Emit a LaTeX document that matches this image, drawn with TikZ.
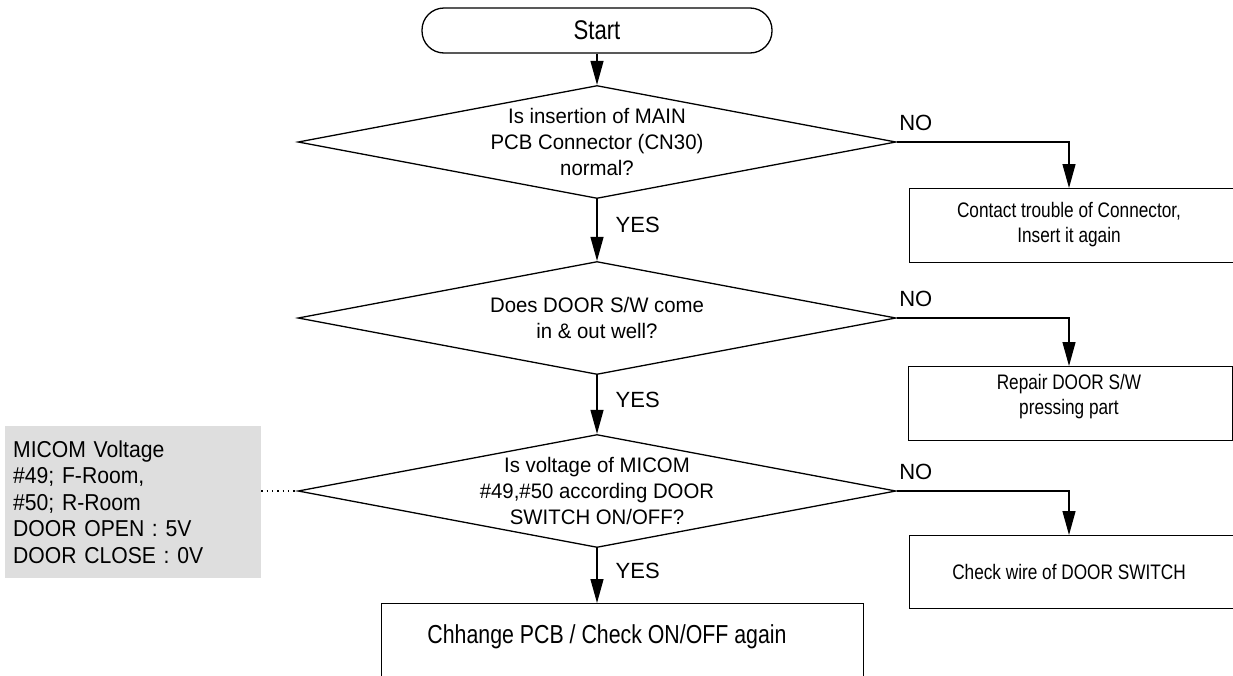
\documentclass[tikz,border=0pt]{standalone}
\usepackage{fontspec}
\setmainfont{Liberation Sans}
\newfontfamily\condfont{Liberation Sans}[FakeStretch=0.82]
\newfontfamily\semicondfont{Liberation Sans}[FakeStretch=0.97]
\newfontfamily\notefont{Liberation Sans}[FakeStretch=0.92]
\usetikzlibrary{positioning,calc}
\usetikzlibrary{arrows.meta,shapes.geometric}
\definecolor{NoteGray}{RGB}{222,222,222}
\tikzset{
  term/.style={draw,line width=1.3pt,rounded corners=22pt,minimum width=350pt,
    minimum height=45pt,inner sep=0pt,font=\condfont\fontsize{27}{30}\selectfont},
  decision/.style={diamond,draw,line width=1.3pt,minimum width=598pt,
    minimum height=113pt,inner sep=0pt},
  qtext/.style={align=center,inner sep=0pt,font=\semicondfont\fontsize{21}{26}\selectfont},
  actbox/.style={draw,line width=1.3pt,anchor=north west,inner sep=0pt},
  btext/.style={align=center,inner sep=0pt,font=\condfont\fontsize{21}{25}\selectfont},
  note/.style={fill=NoteGray,anchor=north west,align=left,text width=240pt,
    inner xsep=8pt,inner ysep=0pt,minimum height=152pt,
    font=\notefont\fontsize{23}{26.5}\selectfont},
  lbl/.style={font=\fontsize{22}{24}\selectfont,inner sep=2pt},
  flow/.style={line width=1.3pt,-{Triangle[length=24pt,width=13pt]}},
}

\begin{document}
\begin{tikzpicture}[x=1pt,y=-1pt]
  \useasboundingbox (0,0) rectangle (1233,675);
  \clip (0,0) rectangle (1233,675);
  % main column
  \node[term] (start) at (597,30.5) {Start};
  \node[decision] (d1) at (597,142) {};
  \node[decision] (d2) at (597,318) {};
  \node[decision] (d3) at (597,491) {};
  \node[qtext] (q1) at (d1) {Is insertion of MAIN\\PCB Connector (CN30)\\normal?};
  \node[qtext] (q2) at (d2) {Does DOOR S/W come\\in \& out well?};
  \node[qtext] (q3) at (d3) {Is voltage of MICOM\\\#49,\#50 according DOOR\\SWITCH ON/OFF?};
  \node[actbox,minimum width=482pt,minimum height=95pt] (chg) at (381,603) {};
  \node[btext,font=\condfont\fontsize{26}{30}\selectfont] (chgtxt) at (607,637)
    {Chhange PCB / Check ON/OFF again};
  % right column
  \node[actbox,minimum width=345pt,minimum height=74pt] (trbl) at (909,188) {};
  \node[btext] (trbltxt) at (1069,225) {Contact trouble of Connector,\\Insert it again};
  \node[actbox,minimum width=324pt,minimum height=74pt] (rep) at (908,366) {};
  \node[btext] (reptxt) at (1069,397) {Repair DOOR S/W\\pressing part};
  \node[actbox,minimum width=345pt,minimum height=73pt] (wire) at (909,535) {};
  \node[btext] (wiretxt) at (1069,572) {Check wire of DOOR SWITCH};
  % note
  \node[note] (micom) at (5,426)
    {MICOM Voltage\\\#49; F-Room,\\\#50; R-Room\\DOOR OPEN : 5V\\DOOR CLOSE : 0V};
  \draw[line width=1.3pt,dash pattern=on 1.3pt off 4pt] (d3.west -| micom.east) -- (d3.west);
  % connectors
  \draw[flow] (start) -- (d1);
  \foreach \a/\b in {d1/d2,d2/d3}
    \draw[flow] (\a) -- node[lbl,pos=0.42,right=16pt] {YES} (\b);
  \draw[flow] (d3) -- node[lbl,pos=0.42,right=16pt] {YES} (d3.south |- chg.north);
  \foreach \d/\t/\b in {d1/trbltxt/trbl,d2/reptxt/rep,d3/wiretxt/wire}
    \draw[flow] (\d.east) -| node[lbl,pos=0,anchor=south west,yshift=9pt] {NO}
      (\t |- \b.north);
\end{tikzpicture}
\end{document}
